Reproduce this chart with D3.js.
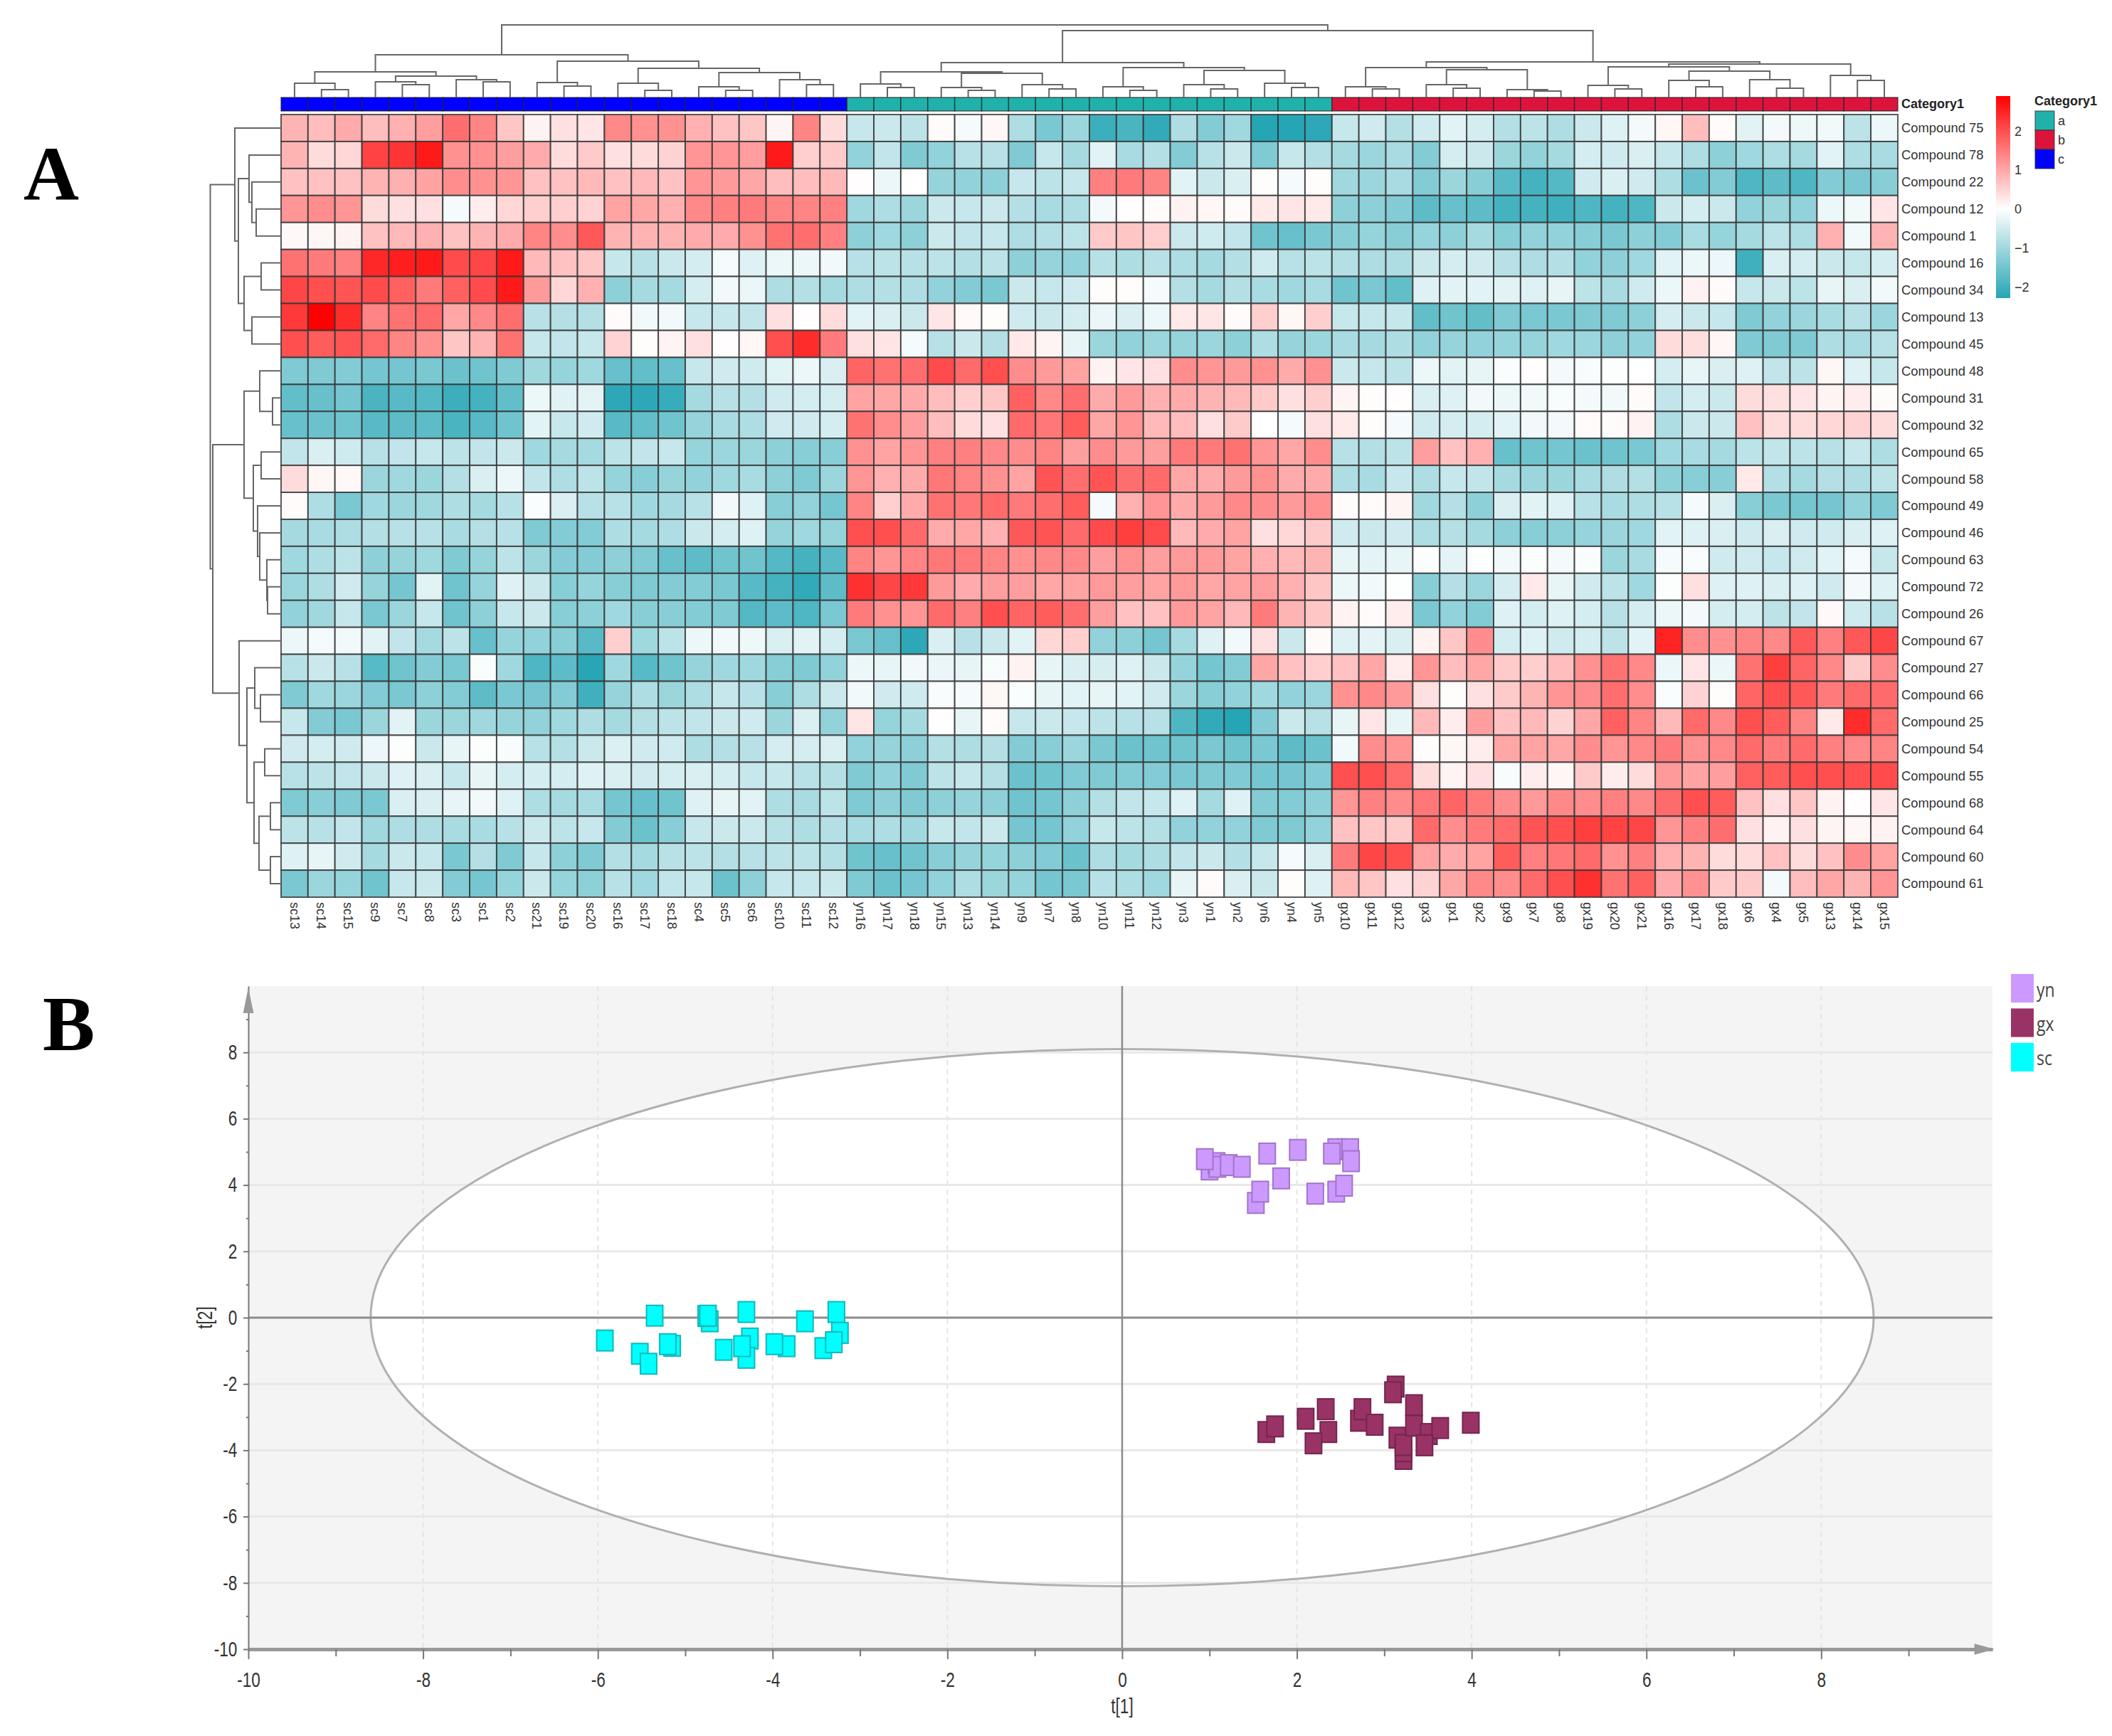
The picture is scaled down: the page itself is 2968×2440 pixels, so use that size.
<!DOCTYPE html>
<html>
<head>
<meta charset="utf-8">
<script src="https://cdn.jsdelivr.net/npm/d3@7"></script>
<style>
  body { margin: 0; background: #fff; }
  text { font-family: "Liberation Sans", Arial, sans-serif; }
</style>
</head>
<body>
<svg id="fig" width="2968" height="2440"></svg>
<script>
// ---- panel A data
var rowLabels = ["Compound 75","Compound 78","Compound 22","Compound 12","Compound 1","Compound 16","Compound 34","Compound 13","Compound 45","Compound 48","Compound 31","Compound 32","Compound 65","Compound 58","Compound 49","Compound 46","Compound 63","Compound 72","Compound 26","Compound 67","Compound 27","Compound 66","Compound 25","Compound 54","Compound 55","Compound 68","Compound 64","Compound 60","Compound 61"];
var colLabels = ["sc13","sc14","sc15","sc9","sc7","sc8","sc3","sc1","sc2","sc21","sc19","sc20","sc16","sc17","sc18","sc4","sc5","sc6","sc10","sc11","sc12","yn16","yn17","yn18","yn15","yn13","yn14","yn9","yn7","yn8","yn10","yn11","yn12","yn3","yn1","yn2","yn6","yn4","yn5","gx10","gx11","gx12","gx3","gx1","gx2","gx9","gx7","gx8","gx19","gx20","gx21","gx16","gx17","gx18","gx6","gx4","gx5","gx13","gx14","gx15"];
var colGroups = [["c",21],["a",18],["b",21]];
var groupColors = {a:"#20B2AA", b:"#DC143C", c:"#0000FF"};

// one row per compound: sc columns | yn columns | gx columns
var heatValues = [
 [.85,.75,.95,.75,.9,1.1,1.65,1.4,.65,.15,.35,.3,1.35,1.25,1.25,.9,.7,.65,.12,1.4,.4, -.6,-.55,-.7,.05,-.1,.1,-.85,-1.4,-1.05,-2.05,-1.9,-2.15,-.85,-1.3,-1,-2.3,-2.3,-2.2, -.6,-.5,-.8,-.5,-.3,-.45,-.8,-.7,-.85,-.55,-.35,-.12,.1,.75,.05,-.3,-.12,-.18,-.15,-.7,-.2],
 [.85,.4,.45,2.15,2.3,2.6,1.25,1.25,1.1,.95,.4,.6,.35,.4,.5,1.2,1.2,1.1,2.6,.55,.6, -1.15,-.65,-1.35,-1.15,-.75,-.75,-1.35,-.6,-.95,-.3,-.9,-.8,-1.3,-.75,-.55,-1.35,-.6,-.8, -.95,-1.05,-.9,-1.3,-.45,-.55,-1.05,-1.15,-.95,-.45,-.5,-.4,-.6,-.85,-1.2,-1,-.85,-.95,-.3,-.85,-.9],
 [.7,.7,.7,.85,.9,1.05,1.3,1.25,1.2,.7,.7,.8,.7,.8,.7,1.2,1.15,1,.75,.75,.8, .02,-.2,0,-1.1,-1.15,-1.2,-.6,-.7,-.6,1.45,1.5,1.4,-.3,-.55,-.4,.03,-.1,.03, -1,-1.05,-.9,-1.3,-1.05,-1.25,-1.75,-1.95,-1.8,-.5,-.4,-.5,-.85,-1.55,-1.3,-1.85,-1.7,-1.85,-1.3,-1.4,-1.25],
 [1.2,1.3,1.2,.4,.35,.35,-.1,.2,.45,.55,.55,.5,1.05,1,.9,1.35,1.45,1.5,1.4,1.4,1.45, -1,-.85,-1.05,-.55,-.6,-.55,-.8,-.9,-.85,-.12,.02,.05,.15,.1,.05,.25,.3,.25, -1.2,-1.2,-1.3,-1.7,-1.6,-1.7,-1.95,-1.95,-2,-1.85,-1.95,-1.85,-.55,-.45,-.55,-1.15,-1.05,-1.15,-.2,-.15,.3],
 [.08,.1,.15,.7,.8,.9,.7,.85,.95,1.4,1.3,1.9,.85,.85,.85,.95,.95,1.25,1.6,1.65,1.45, -1.2,-1,-1.2,-.55,-.65,-.6,-.85,-.8,-.7,.6,.65,.55,-.55,-.5,-.65,-1.5,-1.6,-1.4, -1.25,-1.1,-1.25,-1.1,-1.2,-.95,-1.25,-1.15,-1.15,-1.25,-1.4,-1.2,-1.3,-.9,-1.1,-.95,-.7,-.85,.9,-.15,.85],
 [1.6,1.5,1.45,2.45,2.55,2.6,2.05,2.1,2.6,.8,.7,.65,-.6,-.75,-.55,-.45,-.1,-.35,-.2,-.2,-.15, -.75,-.7,-.75,-.7,-.8,-.7,-1.2,-1.1,-1.15,-.75,-.85,-.75,-.85,-.95,-.8,-.5,-.75,-.7, -.8,-.85,-.85,-.55,-.45,-.5,-.75,-.85,-.8,-1.15,-1.2,-1,-.3,-.2,-.2,-2,-.4,-.45,-.55,-.6,-.45],
 [2.1,2,1.95,2.05,1.8,1.5,1.8,2.05,2.6,1.15,.45,.9,-1.2,-.95,-.95,-.45,-.15,-.22,-.85,-.8,-.95, -.85,-.8,-.85,-1.15,-1.3,-1.4,-.55,-.6,-.5,.03,.03,-.1,-.8,-.95,-.8,-.9,-1,-.9, -1.5,-1.4,-1.65,-.35,-.3,-.3,-.3,-.35,-.25,-.7,-.9,-.5,-.2,.15,.05,-.6,-.55,-.7,-.25,-.4,-.15],
 [2.25,2.9,2.4,1.4,1.6,1.7,1,1.35,1.65,-.75,-.8,-.8,.05,-.15,-.15,-.6,-.6,-.65,.35,.02,.4, -.3,-.4,-.55,.3,.07,.03,-.5,-.55,-.45,-.22,-.4,-.2,.25,.3,.05,.55,.1,.55, -.6,-.6,-.6,-1.65,-1.5,-1.65,-1.35,-1.4,-1.4,-1.35,-1.35,-1.2,-.45,-.55,-.6,-1.35,-1.15,-1.05,-.9,-.75,-1.05],
 [2,1.85,1.95,1.7,1.4,1.25,.65,.85,1.6,-.6,-.65,-.6,.5,.03,.12,.35,.02,.1,2,2.4,1.5, .35,.3,-.1,-.75,-.55,-.8,.25,.12,-.25,-1.05,-1.15,-1.05,-1.1,-1.05,-1.2,-.85,-1.1,-1.05, -.9,-.95,-.85,-1.15,-1.1,-1.15,-1.1,-1.1,-1,-1.05,-1.2,-1.15,.4,.38,.1,-1.35,-1.35,-1.35,-.85,-.9,-.75],
 [-1.35,-1.35,-1.3,-1.45,-1.45,-1.4,-1.55,-1.5,-1.35,-1,-1.1,-1,-1.6,-1.65,-1.6,-.6,-.5,-.5,-.3,-.2,-.4, 1.75,1.6,1.65,2.05,1.7,2,1.3,1.15,1.05,.15,.3,.35,1.3,1.2,1.15,1.25,.95,1.25, -.55,-.6,-.7,-.2,-.3,-.25,-.05,.02,-.12,-.08,-.03,0,-.45,-.25,-.4,-.35,-.65,-.7,.1,-.35,-.6],
 [-1.65,-1.6,-1.45,-1.9,-1.75,-1.8,-2.05,-1.95,-1.65,-.2,-.32,-.28,-2.2,-2.2,-2.1,-.95,-.75,-.8,-.5,-.45,-.45, 1.05,1,.95,.75,.55,.65,1.8,1.35,1.65,.95,1.15,.9,.95,.85,.8,.6,.35,.55, .12,.03,.02,-.4,-.35,-.15,-.2,-.15,-.08,-.12,-.15,.05,-.65,-.45,-.55,.4,.35,.3,.12,.2,.05],
 [-1.6,-1.55,-1.5,-1.75,-1.7,-1.7,-1.9,-1.75,-1.5,-.3,-.6,-.5,-1.75,-1.65,-1.5,-1.1,-.9,-.85,-.5,-.5,-.45, 1.6,1.3,1.1,.75,.4,.35,1.7,1.55,1.85,1,1.2,.8,.75,.35,.6,0,-.1,.35, .25,.03,-.1,-.5,-.45,-.45,-.3,-.15,-.12,.05,.05,.15,-.85,-.55,-.55,.7,.4,.4,.45,.5,.4],
 [-.65,-.4,-.5,-.75,-.65,-.6,-.7,-.65,-.55,-1,-.95,-.95,-.7,-.65,-.6,-1.1,-1.05,-1.05,-1.2,-1.25,-1.25, 1.25,1.05,1.2,1.45,1.45,1.35,1.3,1.4,1.1,1.3,1.15,1.1,1.5,1.5,1.6,1.2,1,1.3, -.75,-.8,-.7,1.1,.7,.9,-1.6,-1.5,-1.45,-1.55,-1.5,-1.4,-1,-.9,-.95,-.7,-.65,-.7,-.75,-.6,-.85],
 [.4,.1,.08,-1.05,-1,-1.05,-.8,-.4,-.2,-.65,-.85,-.7,-1.1,-1.25,-1.1,-1.15,-1,-.9,-1.2,-1.35,-1.05, 1.2,.9,.95,1.55,1.4,1.25,1.05,1.95,1.65,1.95,1.65,1.7,1,.95,1.15,1.25,.95,.95, -.85,-.9,-.6,-.85,-.6,-.65,-.95,-1.05,-1.05,-.9,-.85,-.8,-1.2,-1.25,-1.25,.25,-.8,-.95,-.8,-.85,-.7],
 [.05,-.85,-1.4,-1,-1.05,-1,-.85,-.95,-.75,-.05,-.4,-.75,-.75,-1,-.95,-.75,-.15,-.35,-1.25,-1.15,-1.45, 1.4,.55,.95,1.6,1.55,1.7,1.5,1.65,1.85,-.1,.9,1.2,.95,1.15,1.35,1.3,1.15,1.25, .05,.05,.12,-1,-.8,-1.2,-.4,-.3,-.35,-.75,-.9,-.85,-.75,-.1,-.4,-1.25,-1.4,-1.45,-1.45,-1.15,-1.35],
 [-.95,-.9,-.85,-.8,-.75,-.75,-.9,-.8,-.75,-1.35,-1.3,-1.3,-.85,-.95,-.85,-.55,-.45,-.35,-1.1,-1,-1.1, 2,2,1.7,.95,1,.9,1.9,1.95,1.7,2.05,2.2,2.05,.8,.95,1.05,.35,.45,.6, -.5,-.55,-.5,-.85,-.8,-.95,-1.2,-1.25,-1.2,-1.1,-1.05,-1,-.3,-.35,-.4,-.5,-.4,-.5,-.5,-.4,-.35],
 [-1,-.85,-.7,-1.2,-1.1,-1,-1.35,-1.1,-.7,-1.05,-1.3,-1.3,-1.2,-1.35,-1.6,-1.7,-1.5,-1.5,-1.8,-1.95,-1.75, 1.4,1.2,1.4,1.55,1.5,1.4,1.25,1.35,1.35,1.1,1.25,1.1,1.15,1.15,1.05,.9,.8,.85, -.25,-.28,-.25,-.03,-.28,-.02,-.15,-.03,-.12,-.05,-1.05,-.9,-.1,-.07,-.5,-.5,-.6,-.5,-.3,-.1,-.6],
 [-1.05,-.85,-.5,-1.1,-1.45,-.3,-1.5,-1.1,-.35,-.55,-1.25,-1.1,-1.25,-1.35,-1.3,-1.3,-1.4,-1.75,-1.95,-2.15,-1.7, 2.35,2.1,2.25,1.15,.95,1.1,1.1,1,1.05,1.15,1.1,1.05,1.15,1,1.05,1.1,.9,.65, -.2,-.15,-.02,-1.25,-.8,-1.05,-.45,.25,-.25,-.5,-.7,-1,-.03,.35,-.35,-.35,-.4,-.35,-.5,-.12,-.35],
 [-1.15,-1,-.6,-1.4,-1.05,-.6,-1.5,-1.2,-.6,-.55,-1.25,-1.2,-1,-1.25,-1.25,-1.3,-1.35,-1.8,-1.7,-1.85,-1.4, 1.5,1.25,1.2,1.7,1.45,2,1.75,1.85,1.65,1.1,.7,.7,1.15,1.05,.8,1.5,.85,.65, .15,.05,.2,-1.4,-1.15,-1.3,-.35,-.45,-.35,-.45,-.75,-.45,-.2,-.12,-.45,-.45,-.7,-.65,.07,-.5,-.75],
 [-.2,-.1,-.15,-.3,-.65,-.95,-.7,-1.6,-1.1,-1.15,-1.25,-1.75,.55,-1,-.7,-.2,-.15,-.17,-.4,-.3,-.45, -1.4,-1.6,-2.2,-.4,-.75,-.55,-.3,.45,.55,-1.15,-1.2,-1.45,-.95,-.35,-.15,.35,-.55,.05, -.35,-.28,-.4,.15,.65,1.3,-.45,-.35,-.5,-.45,-.7,-.3,2.5,1.3,1.25,1.4,1.35,1.9,1.45,1.9,2.1],
 [-.75,-.55,-.75,-1.75,-1.5,-1.3,-1.4,-.05,-1,-1.85,-1.7,-2.25,-1,-1.75,-1.5,-1.1,-1,-1,-1.25,-1.35,-1.15, -.2,-.25,-.15,-.22,-.25,-.08,.15,-.25,-.4,-.42,-.35,-.55,-1.1,-1.45,-1.3,1,.7,.55, .7,1,.2,1.2,.75,1,.6,.55,.75,1.25,1.6,1.35,-.2,.3,-.2,1.6,2.2,1.75,1.35,.6,1.3],
 [-1.35,-1,-1.05,-1.3,-1.4,-1.2,-1.3,-1.7,-1.4,-1.45,-1.3,-2,-1.1,-.85,-1.05,-.85,-.6,-.75,-1.25,-.85,-.55, -.15,-.5,-.5,-.07,-.1,.1,-.05,-.25,-.3,-.25,-.3,-.5,-1.05,-1.25,-1.15,-1,-1.15,-1.05, 1.25,1.35,1.15,.35,.03,.35,.6,.85,1.2,1.3,1.65,1.3,-.05,.5,.03,1.75,2,1.9,1.5,1.7,1.7],
 [-.6,-1.3,-1.4,-1.05,-.3,-1.05,-1.05,-1,-1.1,-1.15,-1,-.85,-.95,-.8,-.7,-.65,-.55,-.5,-1.05,-.4,-1.15, .3,-1.1,-.95,.02,-.25,.05,-.6,-.55,-.6,-.7,-.75,-.75,-1.85,-2.15,-2.3,-1.3,-.55,-.75, -.25,.3,-.25,.8,.2,1.1,.7,.8,.5,1,1.8,1.4,.8,1.7,1.35,2,1.85,1.4,.25,2.4,1.7],
 [-.5,-.45,-.5,-.2,-.03,-.55,-.25,-.03,-.07,-.75,-.8,-.55,-.38,-.5,-.5,-.85,-.8,-.75,-.45,-.45,-.4, -1.15,-1.1,-1.2,-.8,-.85,-.8,-1.3,-1.25,-1.05,-1.4,-1.55,-1.5,-1.5,-1.4,-1.5,-1.4,-1.7,-1.55, -.15,1.3,1.2,.03,.1,.2,1,1.05,1,1.3,1.2,1.35,1.5,1.25,1.35,1.7,1.5,1.7,1.45,1.35,1.4],
 [-.75,-.7,-.65,-.55,-.35,-.4,-.6,-.25,-.45,-.45,-.45,-.35,-.4,-.5,-.45,-.4,-.45,-.6,-.6,-.75,-.8, -1.35,-1.15,-1.35,-.7,-.6,-.8,-1.55,-1.5,-1.35,-1.35,-1.3,-1.3,-1.4,-1.35,-1.35,-1.45,-1.45,-1.3, 2,2,1.7,.4,.12,.35,-.07,.2,.1,.6,.2,.4,1.15,1.05,1.1,1.8,1.85,2,2,2,2.05],
 [-1.35,-1.25,-1.35,-1.4,-.4,-.4,-.25,-.15,-.35,-.85,-.95,-.9,-1.45,-1.6,-1.5,-.35,-.25,-.3,-.85,-.9,-.7, -1.35,-1.2,-1.35,-1.2,-1.1,-1.2,-1.5,-1.45,-1.2,-.8,-.65,-.6,-.35,-.95,-.35,-1.3,-1.3,-1.2, 1.2,1.45,1.3,1.55,1.75,1.5,1.3,1.15,1.35,1.3,1.45,1.35,1.7,2,1.85,.7,.35,.65,.15,.02,.3],
 [-.7,-.75,-.65,-1,-.85,-.85,-.9,-.9,-.75,-.55,-.7,-.6,-1.3,-1.55,-1.25,-.6,-.55,-.55,-.75,-.85,-.8, -.9,-.85,-1,-.6,-.65,-.55,-1.45,-1.45,-1.15,-.6,-.7,-.8,-1.15,-1.15,-1.15,-1.35,-1.35,-1.15, .7,.65,.6,1.7,1.3,1.5,1.7,1.95,2,2.2,2.15,2.1,1.2,1.45,1.65,.35,.15,.35,.12,.1,.15],
 [-.35,-.25,-.5,-.95,-.55,-.6,-1.4,-.8,-1.35,-.6,-1.2,-1.35,-.8,-.95,-.75,-.7,-.8,-.75,-.7,-.7,-.8, -1.5,-1.6,-1.5,-1.25,-1.1,-1.1,-1.2,-1.3,-1.55,-.85,-.95,-.85,-.65,-.55,-.8,-.6,-.1,-.4, 1.5,2.1,2,1.05,.95,1.05,1.85,1.45,1.55,1.7,1.25,1.45,.9,.85,.4,.4,.7,.4,.7,1.3,1.05],
 [-1.4,-1.05,-1.1,-1.5,-.6,-.55,-1.3,-1.45,-1.1,-.55,-1.1,-1.2,-.75,-1,-.65,-.6,-1.55,-1.2,-.6,-.6,-.55, -1.35,-1.55,-1.45,-1.15,-.85,-1.05,-1.1,-1.45,-1.4,-.75,-.85,-1,-.25,.05,-.4,-.55,.03,-.35, .8,.65,.35,.5,1,1.35,1.3,1.7,2,2.35,1.6,1.8,.95,1.25,.6,.6,-.12,.75,1,.85,1.2]
];

// merge trees, [merge height, left, right]; plain numbers are leaf indexes
var colTree = [102,
  [60,
    [36,[20,0,[11,1,2]],[30,[22,3,[18,4,5]],[25,6,[22,7,8]]]],
    [51,[21,9,[16,10,11]],[41,[20,12,[10,13,14]],[35,[15,15,[10,16,17]],[25,18,[18,19,20]]]]]],
  [94,
    [49,
      [36,[19,21,[14,22,23]],[34,[14,24,[10,25,26]],[18,27,[12,28,29]]]],
      [42,[15,30,[10,31,32]],[38,[18,33,[12,34,35]],[20,36,[14,37,38]]]]],
    [50,
      [42,[15,39,[12,40,41]],[39,[18,42,[13,43,44]],[11,45,[9,46,47]]]],
      [47,[43,[17,48,[12,49,50]],[37,[24,51,[15,52,53]],[25,54,[13,55,56]]]],[31,57,[24,58,59]]]]]];
var rowTree = [99.5,
  [65,0,[60,[45,1,[41,2,[35,3,4]]],[52,[28,5,6],[41,7,8]]]],
  [96,
    [52,[30,9,[12,10,11]],[39,[28,12,13],[33,14,[30,15,[20,16,[19,17,18]]]]]],
    [59,19,[48,[37,20,[29,21,22]],[38,[23,23,24],[31,[15,25,26],[15,27,28]]]]]]];

// ---- panel B data
var seriesNames = ["yn","gx","sc"];
var seriesFill = {yn:"#CC99FF", gx:"#993366", sc:"#00FFFF"};
var seriesEdge = {yn:"#A274C8", gx:"#74264C", sc:"#10B8BC"};
var ynT1 = [1,1.08,1.09,.946,1.22,1.37,1.66,2.01,1.82,1.53,1.58,2.21,2.45,2.54,2.45,2.61,2.4,2.62];
var ynT2 = [4.47,4.66,4.55,4.78,4.6,4.55,4.95,5.06,4.2,3.46,3.8,3.74,3.8,3.98,5.08,5.08,4.95,4.72];
var gxT1 = [1.65,1.75,2.1,2.33,2.36,2.19,2.71,2.75,2.89,3.13,3.1,3.15,3.22,3.22,3.22,3.34,3.34,3.51,3.64,3.46,3.99];
var gxT2 = [-3.45,-3.28,-3.05,-2.76,-3.45,-3.79,-3.11,-2.76,-3.23,-2.08,-2.25,-3.62,-4.26,-4.03,-3.84,-2.64,-3.26,-3.51,-3.33,-3.85,-3.17];
var scT1 = [-5.92,-5.52,-5.42,-5.35,-5.15,-5.2,-4.72,-4.76,-4.74,-4.56,-4.3,-4.26,-4.3,-4.35,-3.84,-3.98,-3.63,-3.42,-3.23,-3.3,-3.27];
var scT2 = [-.69,-1.09,-1.39,.06,-.85,-.8,-.11,.05,.06,-.97,.17,-.63,-1.21,-.86,-.86,-.8,-.11,-.92,-.46,-.74,.17];
var xMajor = [-10,-8,-6,-4,-2,0,2,4,6,8];
var xMinor = [-9,-7,-5,-3,-1,1,3,5,7,9];
var ellipseT1 = 8.6, ellipseT2 = 8.1;

var svg = d3.select("#fig");

// ---- panel letters
svg.append("text").attr("x",33).attr("y",281).style("font-family","Liberation Serif")
  .style("font-weight","bold").style("font-size","108px").text("A");
svg.append("text").attr("x",60).attr("y",1476).style("font-family","Liberation Serif")
  .style("font-weight","bold").style("font-size","110px").text("B");

// ---- heatmap
var xCol = d3.scaleBand().domain(d3.range(colLabels.length)).range([395,2667]);
var yRow = d3.scaleBand().domain(d3.range(rowLabels.length)).range([161,1261]);
var heatColor = d3.scaleLinear().domain([-2.28,0,2.9]).range(["#26A5B5","#FFFFFF","#FF0000"]).clamp(true);

var cells = [];
heatValues.forEach(function(row,r){
  row.forEach(function(v,c){ cells.push({r:r,c:c,v:v}); });
});
svg.append("g").selectAll("rect").data(cells).enter().append("rect")
  .attr("x",function(d){ return xCol(d.c); })
  .attr("y",function(d){ return yRow(d.r); })
  .attr("width",xCol.bandwidth())
  .attr("height",yRow.bandwidth())
  .attr("fill",function(d){ return heatColor(d.v); })
  .attr("stroke","#333").attr("stroke-opacity",.8).attr("stroke-width",2);

// annotation strip
var colGroupOf = [];
colGroups.forEach(function(g){ d3.range(g[1]).forEach(function(){ colGroupOf.push(g[0]); }); });
svg.append("g").selectAll("rect").data(colGroupOf).enter().append("rect")
  .attr("x",function(d,i){ return xCol(i); })
  .attr("y",137).attr("height",19)
  .attr("width",xCol.bandwidth())
  .attr("fill",function(d){ return groupColors[d]; })
  .attr("stroke","#222").attr("stroke-opacity",.7).attr("stroke-width",1.5);
svg.append("text").attr("x",2672).attr("y",152).style("font-weight","bold").style("font-size","18px").attr("fill","#222").text("Category1");

// labels
svg.append("g").selectAll("text").data(rowLabels).enter().append("text")
  .attr("x",2672)
  .attr("y",function(d,i){ return yRow(i)+yRow.bandwidth()/2; })
  .attr("dy",".35em").style("font-size","18.4px").attr("fill","#333")
  .text(function(d){ return d; });
svg.append("g").selectAll("text").data(colLabels).enter().append("text")
  .attr("transform",function(d,i){ return "translate("+(xCol(i)+xCol.bandwidth()/2)+",1268) rotate(90)"; })
  .attr("dy",".35em").style("font-size","18px").attr("fill","#333")
  .text(function(d){ return d; });

// dendrograms
function drawTree(tree, leafPos, heightPos, isTop){
  var root = d3.hierarchy(tree,function(d){ return Array.isArray(d) ? d.slice(1) : null; });
  root.eachAfter(function(n){
    n.pos = n.children ? (n.children[0].pos+n.children[1].pos)/2 : leafPos(n.data);
    n.h = n.children ? heightPos(n.data[0]) : heightPos(0);
  });
  function link(n){
    var a = n.children[0], b = n.children[1];
    var pts = [[a.pos,a.h],[a.pos,n.h],[b.pos,n.h],[b.pos,b.h]];
    return d3.line()(isTop ? pts : pts.map(function(p){ return [p[1],p[0]]; }));
  }
  svg.append("g").selectAll("path")
    .data(root.descendants().filter(function(n){ return n.children; }))
    .enter().append("path")
    .attr("d",link).attr("fill","none").attr("stroke","#666").attr("stroke-width",2);
}
drawTree(colTree,
  function(i){ return xCol(i)+xCol.bandwidth()/2; },
  d3.scaleLinear().domain([0,102]).range([137,35]), true);
drawTree(rowTree,
  function(i){ return yRow(i)+yRow.bandwidth()/2; },
  d3.scaleLinear().domain([0,99.5]).range([395,295.5]), false);

// colour bar
var barScale = d3.scaleLinear().domain([-2.28,2.9]).range([419,135]);
var grad = svg.append("defs").append("linearGradient").attr("id","heatGrad")
  .attr("x1",0).attr("y1",1).attr("x2",0).attr("y2",0);
heatColor.domain().forEach(function(v){
  grad.append("stop").attr("offset",(v+2.28)/5.18).attr("stop-color",heatColor(v));
});
svg.append("rect").attr("x",2805).attr("y",135).attr("width",20).attr("height",284).attr("fill","url(#heatGrad)");
var barAxis = svg.append("g").attr("transform","translate(2825,0)")
  .call(d3.axisRight(barScale).tickValues([-2,-1,0,1,2]).tickSize(0).tickPadding(6).tickFormat(function(d){ return d<0 ? "\u2212"+(-d) : d; }));
barAxis.select(".domain").remove();
barAxis.selectAll("text").style("font-size","18px").style("font-family","Liberation Sans").attr("fill","#333");

// category legend
var legendKeys = ["a","b","c"];
var legendY = d3.scaleBand().domain(legendKeys).range([156,237]);
svg.append("text").attr("x",2859).attr("y",148).style("font-weight","bold").style("font-size","18px").attr("fill","#222").text("Category1");
svg.append("g").selectAll("rect").data(legendKeys).enter().append("rect")
  .attr("x",2860).attr("width",27)
  .attr("y",function(d){ return legendY(d); })
  .attr("height",legendY.bandwidth())
  .attr("fill",function(d){ return groupColors[d]; })
  .attr("stroke","#333").attr("stroke-opacity",.6).attr("stroke-width",1.5);
svg.append("g").selectAll("text").data(legendKeys).enter().append("text")
  .attr("x",2892)
  .attr("y",function(d){ return legendY(d)+legendY.bandwidth()/2; })
  .attr("dy",".35em").style("font-size","18px").attr("fill","#333")
  .text(function(d){ return d; });

// ---- score plot
var x = d3.scaleLinear().domain([-10,9.96]).range([349,2800]);
var y = d3.scaleLinear().domain([-10,10]).range([2318,1386]);

svg.append("rect").attr("x",x(-10)).attr("y",y(10)).attr("width",x(9.96)-x(-10)).attr("height",y(-10)-y(10)).attr("fill","#F4F4F4");
svg.append("ellipse").attr("cx",x(0)).attr("cy",y(0))
  .attr("rx",x(ellipseT1)-x(0)).attr("ry",y(0)-y(ellipseT2)).attr("fill","#fff");

// grid
svg.append("g").selectAll("line").data(xMajor.filter(function(v){ return v!==0 && v!==-10; })).enter().append("line")
  .attr("x1",function(d){ return x(d); }).attr("x2",function(d){ return x(d); })
  .attr("y1",y(10)).attr("y2",y(-10))
  .attr("stroke","#E4E4E4").attr("stroke-width",2).attr("stroke-dasharray","7,6");
svg.append("g").selectAll("line").data(xMajor.filter(function(v){ return v!==0 && v!==-10; })).enter().append("line")
  .attr("x1",x(-10)).attr("x2",x(9.96))
  .attr("y1",function(d){ return y(d); }).attr("y2",function(d){ return y(d); })
  .attr("stroke","#E8E8E8").attr("stroke-width",3);

svg.append("ellipse").attr("cx",x(0)).attr("cy",y(0))
  .attr("rx",x(ellipseT1)-x(0)).attr("ry",y(0)-y(ellipseT2))
  .attr("fill","none").attr("stroke","#B0B0B0").attr("stroke-width",3);

// zero lines
svg.append("line").attr("x1",x(-10)).attr("x2",x(9.96)).attr("y1",y(0)).attr("y2",y(0)).attr("stroke","#8C8C8C").attr("stroke-width",3);
svg.append("line").attr("x1",x(0)).attr("x2",x(0)).attr("y1",y(10)).attr("y2",y(-10)).attr("stroke","#8C8C8C").attr("stroke-width",2.5);

// axes, labels squeezed sideways like the original export
function styleAxis(g){
  g.selectAll("text").style("font-family","Liberation Sans").style("font-size","29px")
    .attr("fill","#333").attr("transform","scale(.78,1)");
  g.selectAll(".tick line").attr("stroke","#777").attr("stroke-width",2);
}
var plain = function(d){ return String(d); };
var bottomMinor = svg.append("g").attr("transform","translate(0,"+y(-10)+")")
  .call(d3.axisBottom(x).tickValues(xMinor).tickSize(10).tickSizeOuter(0).tickFormat(""));
bottomMinor.select(".domain").attr("stroke","#999").attr("stroke-width",5);
styleAxis(bottomMinor);
var bottomMajor = svg.append("g").attr("transform","translate(0,"+y(-10)+")")
  .call(d3.axisBottom(x).tickValues(xMajor).tickSize(14).tickSizeOuter(0).tickPadding(18).tickFormat(plain));
bottomMajor.select(".domain").remove();
styleAxis(bottomMajor);
var leftMinor = svg.append("g").attr("transform","translate("+x(-10)+",0)")
  .call(d3.axisLeft(y).tickValues(xMinor).tickSize(3).tickSizeOuter(0).tickFormat(""));
leftMinor.select(".domain").attr("stroke","#777").attr("stroke-width",2);
styleAxis(leftMinor);
var leftMajor = svg.append("g").attr("transform","translate("+x(-10)+",0)")
  .call(d3.axisLeft(y).tickValues(xMajor).tickSize(7).tickSizeOuter(0).tickPadding(13).tickFormat(plain));
leftMajor.select(".domain").remove();
styleAxis(leftMajor);

// arrow heads
svg.append("path").attr("d",d3.symbol(d3.symbolTriangle,190)())
  .attr("transform","translate("+x(-10)+","+(y(10)+26)+") scale(.7,2)").attr("fill","#999");
svg.append("path").attr("d",d3.symbol(d3.symbolTriangle,190)())
  .attr("transform","translate("+(x(9.96)-16)+","+y(-10)+") rotate(90) scale(.75,1.55)").attr("fill","#999");

svg.append("text").attr("transform","translate("+x(0)+",2408) scale(.78,1)").attr("text-anchor","middle")
  .style("font-size","29px").attr("fill","#333").text("t[1]");
svg.append("text").attr("transform","translate(298,"+y(0)+") rotate(-90) scale(.78,1)").attr("text-anchor","middle")
  .style("font-size","29px").attr("fill","#333").text("t[2]");

// markers
var series = [
  {name:"sc", t1:scT1, t2:scT2},
  {name:"yn", t1:ynT1, t2:ynT2},
  {name:"gx", t1:gxT1, t2:gxT2}
];
series.forEach(function(s){
  svg.append("g").selectAll("rect").data(s.t1).enter().append("rect")
    .attr("x",function(d){ return x(d)-11.5; })
    .attr("y",function(d,i){ return y(s.t2[i])-14.5; })
    .attr("width",23).attr("height",29)
    .attr("fill",seriesFill[s.name])
    .attr("stroke",seriesEdge[s.name]).attr("stroke-width",2);
});

// series legend
var keyY = d3.scaleBand().domain(seriesNames).range([1369,1506]).paddingInner(.17);
svg.append("g").selectAll("rect").data(seriesNames).enter().append("rect")
  .attr("x",2826).attr("width",32)
  .attr("y",function(d){ return keyY(d); })
  .attr("height",keyY.bandwidth())
  .attr("fill",function(d){ return seriesFill[d]; });
svg.append("g").selectAll("text").data(seriesNames).enter().append("text")
  .attr("transform",function(d){ return "translate(2862,"+(keyY(d)+keyY.bandwidth()/2+2)+") scale(.85,1)"; })
  .attr("dy",".35em").style("font-family","Open Sans").style("font-size","27px").attr("fill","#444")
  .text(function(d){ return d; });
</script>
</body>
</html>
